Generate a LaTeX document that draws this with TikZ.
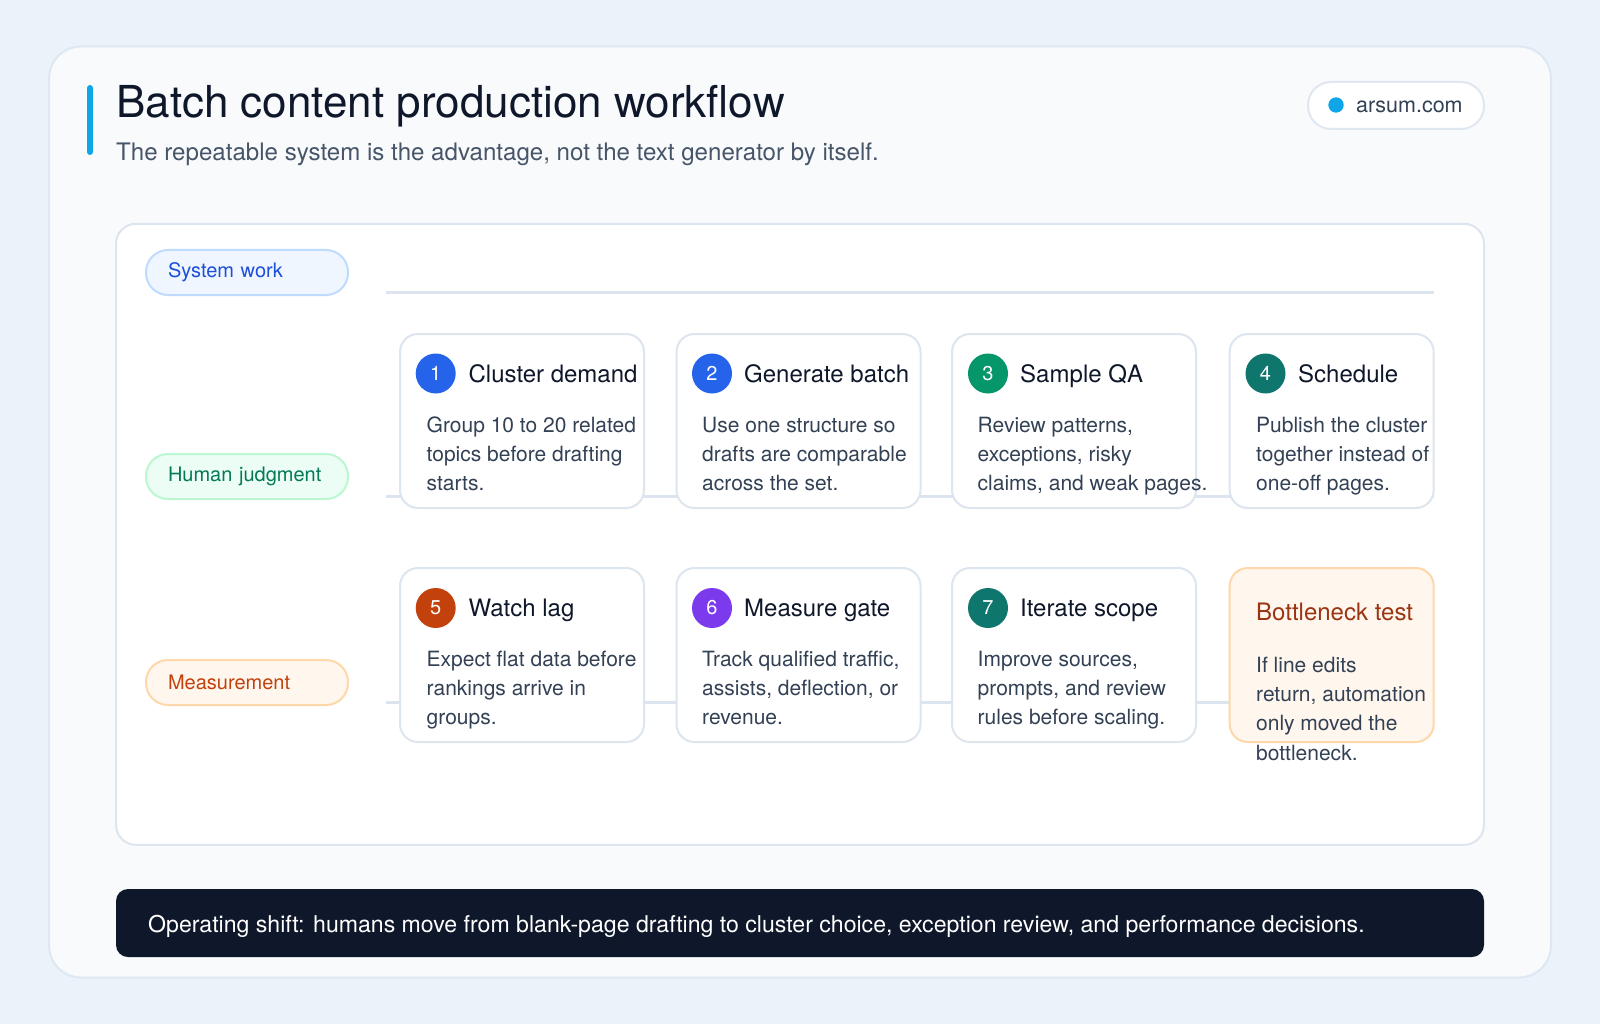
\documentclass[tikz,border=0pt]{standalone}
\usepackage{fontspec}
\setmainfont{TeX Gyre Heros}
\definecolor{bg}{HTML}{EAF2FA}
\definecolor{outerfill}{HTML}{F8FAFC}
\definecolor{outerline}{HTML}{DFE7F0}
\definecolor{panelline}{HTML}{DDE5EF}
\definecolor{lane}{HTML}{DCE4EF}
\definecolor{cardline}{HTML}{DDE5EE}
\definecolor{ink}{HTML}{0F172A}
\definecolor{sub}{HTML}{475569}
\definecolor{body}{HTML}{334155}
\definecolor{accent}{HTML}{0EA5E9}
\definecolor{sysfill}{HTML}{EFF6FF}
\definecolor{sysline}{HTML}{BFDBFE}
\definecolor{systext}{HTML}{1D4ED8}
\definecolor{humfill}{HTML}{ECFDF5}
\definecolor{humline}{HTML}{BBF7D0}
\definecolor{humtext}{HTML}{047857}
\definecolor{mesfill}{HTML}{FFF7ED}
\definecolor{mesline}{HTML}{FED7AA}
\definecolor{mestext}{HTML}{C2410C}
\definecolor{botttext}{HTML}{9A3412}
\definecolor{cblue}{HTML}{2563EB}
\definecolor{cgreen}{HTML}{059669}
\definecolor{cteal}{HTML}{0F766E}
\definecolor{corange}{HTML}{C2410C}
\definecolor{cviolet}{HTML}{7C3AED}
\tikzset{
  card/.style={draw=cardline, line width=2pt, fill=white, rounded corners=18pt, minimum height=174pt, inner sep=0pt},
  num/.style={circle, minimum size=40pt, inner sep=0pt, text=white, font=\fontsize{20}{20}\selectfont},
  ctitle/.style={anchor=base west, inner sep=0pt, text=ink, font=\fontsize{24}{24}\selectfont},
  cbody/.style={anchor=base west, inner sep=0pt, align=left, text=body, font=\fontsize{21}{29.2}\selectfont},
  pill/.style={rounded corners=22pt, line width=2pt, minimum height=45pt, text width=158pt, inner xsep=22pt, inner ysep=0pt, align=left, font=\fontsize{20}{20}\selectfont},
  laneline/.style={draw=lane, line width=3pt},
}
\begin{document}
\begin{tikzpicture}[x=1pt,y=-1pt]
\useasboundingbox (0,0) rectangle (1600,1024);
\fill[bg] (0,0) rectangle (1600,1024);
% outer card
\node[draw=outerline, line width=2pt, fill=outerfill, rounded corners=32pt, minimum width=1502pt, minimum height=931pt, inner sep=0pt] (outer) at (800,512) {};
% accent bar
\draw[accent, line width=6pt, line cap=round] (90,88) -- (90,152);
\node[anchor=base west, inner sep=0pt, text=ink, font=\fontsize{44}{44}\selectfont] (title) at (116,118) {Batch content production workflow};
\node[anchor=base west, inner sep=0pt, text=sub, font=\fontsize{24.1}{24.1}\selectfont] (subtitle) at (116,161) {The repeatable system is the advantage, not the text generator by itself.};
% site pill
\node[draw=outerline, line width=2pt, fill=white, rounded corners=23pt, minimum width=176pt, minimum height=47pt, inner sep=0pt] (site) at (1396,105.5) {};
\fill[accent] (1336,105) circle (7.7);
\node[anchor=west, inner sep=0pt, text=body, font=\fontsize{21.5}{21.5}\selectfont] (sitetext) at (1356,107) {arsum.com};
% panel
\node[draw=panelline, line width=2pt, fill=white, rounded corners=20pt, minimum width=1368pt, minimum height=621pt, inner sep=0pt] (panel) at (800,534.3) {};
% lane pills
\node[pill, draw=sysline, fill=sysfill, text=systext] (sys) at (247,272.5) {System work};
\node[pill, draw=humline, fill=humfill, text=humtext] (hum) at (247,476.5) {Human judgment};
\node[pill, draw=mesline, fill=mesfill, text=mestext] (mes) at (247,682.5) {Measurement};
% lane lines
\coordinate (s0) at (386,292);
\coordinate (s1) at (1434,292);
\coordinate (h0) at (386,496);
\coordinate (h1) at (1434,496);
\coordinate (m0) at (386,702);
\coordinate (m1) at (1434,702);
\draw[laneline] (s0) -- (s1);
\draw[laneline] (h0) -- (h1);
\draw[laneline] (m0) -- (m1);
% row 1 cards
\node[card, minimum width=244pt] (c1) at (522,421) {};
\node[card, minimum width=244pt] (c2) at (798.5,421) {};
\node[card, minimum width=244pt] (c3) at (1074,421) {};
\node[card, minimum width=204pt] (c4) at (1331.7,421) {};
% row 2 cards
\node[card, minimum width=244pt] (c5) at (522,655) {};
\node[card, minimum width=244pt] (c6) at (798.5,655) {};
\node[card, minimum width=244pt] (c7) at (1074,655) {};
\node[card, minimum width=204pt, draw=mesline, fill=mesfill] (c8) at (1331.7,655) {};
% card 1 (body anchored at the baseline of its last line)
\node[num, fill=cblue] (n1) at (435.7,373.5) {1};
\node[ctitle] (t1) at (468.4,382) {Cluster demand};
\node[cbody] (b1) at (426.5,490.4) {Group 10 to 20 related\\topics before drafting\\starts.};
% card 2
\node[num, fill=cblue] (n2) at (712,373.5) {2};
\node[ctitle] (t2) at (744,382) {Generate batch};
\node[cbody] (b2) at (702,490.4) {Use one structure so\\drafts are comparable\\across the set.};
% card 3
\node[num, fill=cgreen] (n3) at (988,373.5) {3};
\node[ctitle] (t3) at (1020,382) {Sample QA};
\node[cbody] (b3) at (977.5,490.4) {Review patterns,\\exceptions, risky\\claims, and weak pages.};
% card 4
\node[num, fill=cteal] (n4) at (1265.5,373.5) {4};
\node[ctitle] (t4) at (1298,382) {Schedule};
\node[cbody] (b4) at (1256,490.4) {Publish the cluster\\together instead of\\one-off pages.};
% card 5
\node[num, fill=corange] (n5) at (435.7,608) {5};
\node[ctitle] (t5) at (468.4,616.6) {Watch lag};
\node[cbody] (b5) at (426.5,724.9) {Expect flat data before\\rankings arrive in\\groups.};
% card 6
\node[num, fill=cviolet] (n6) at (712,608) {6};
\node[ctitle] (t6) at (744,616.6) {Measure gate};
\node[cbody] (b6) at (702,724.9) {Track qualified traffic,\\assists, deflection, or\\revenue.};
% card 7
\node[num, fill=cteal] (n7) at (988,608) {7};
\node[ctitle] (t7) at (1020,616.6) {Iterate scope};
\node[cbody] (b7) at (977.5,724.9) {Improve sources,\\prompts, and review\\rules before scaling.};
% bottleneck
\node[ctitle, text=botttext] (t8) at (1256,620.6) {Bottleneck test};
\node[cbody] (b8) at (1256,760) {If line edits\\return, automation\\only moved the\\bottleneck.};
% bottom bar
\node[fill=ink, rounded corners=12pt, minimum width=1368pt, minimum height=68pt, inner sep=0pt] (bar) at (800,923) {};
\node[anchor=west, inner sep=0pt, text=white, font=\fontsize{23.1}{23.1}\selectfont] (bartext) at (148,926.5) {Operating shift: humans move from blank-page drafting to cluster choice, exception review, and performance decisions.};
\end{tikzpicture}
\end{document}
